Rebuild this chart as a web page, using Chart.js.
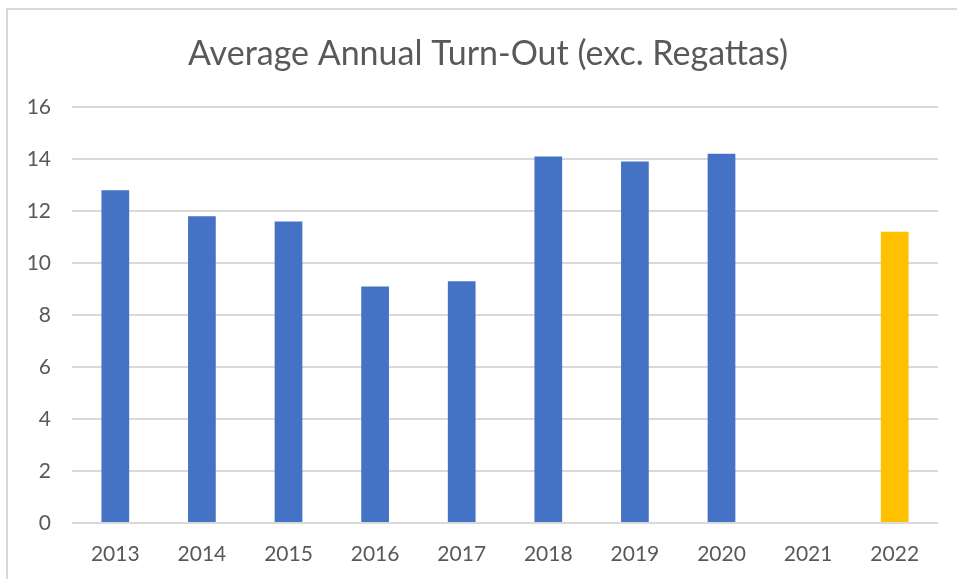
<!DOCTYPE html>
<html>
<head>
<meta charset="utf-8">
<script src="https://cdn.jsdelivr.net/npm/chart.js@4"></script>
<style>
  body { margin: 0; background: #fff; }
  #wrap { position: relative; width: 957px; height: 579px; overflow: hidden; }
  #frame { position: absolute; left: 6px; top: 8px; width: 980px; height: 600px; border: 2px solid #d9d9d9; box-sizing: border-box; }
  canvas { position: absolute; left: 0; top: 0; }
</style>
</head>
<body>
<div id="wrap">
  <div id="frame"></div>
  <canvas id="turnoutChart" width="957" height="579"></canvas>
</div>
<script>
const years = ["2013", "2014", "2015", "2016", "2017", "2018", "2019", "2020", "2021", "2022"];
const turnout = [12.8, 11.8, 11.6, 9.1, 9.3, 14.1, 13.9, 14.2, null, 11.2];
const barColours = ["#4472c4", "#4472c4", "#4472c4", "#4472c4", "#4472c4",
                    "#4472c4", "#4472c4", "#4472c4", "#4472c4", "#ffc000"];
const yTicks = [0, 2, 4, 6, 8, 10, 12, 14, 16];
const chartTitle = "Average Annual Turn-Out (exc. Regattas)";

const textGrey = "#595959";
const fontName = "Lato";

// title drawn by hand so it can sit centred over the frame rather than the canvas
const titlePlugin = {
    id: "frameTitle",
    afterDraw(chart) {
        const c = chart.ctx;
        c.save();
        c.fillStyle = textGrey;
        c.font = "34px " + fontName;
        c.textAlign = "center";
        c.textBaseline = "middle";
        c.fillText(chartTitle, 488, 54);
        c.restore();
    }
};

const ctx = document.getElementById("turnoutChart");

new Chart(ctx, {
    type: "bar",
    data: {
        labels: years,
        datasets: [{
            label: "Average turn-out",
            data: turnout,
            backgroundColor: barColours,
            barPercentage: 1,
            categoryPercentage: 0.32
        }]
    },
    options: {
        responsive: false,
        animation: false,
        layout: { padding: { left: 0, right: 19, top: 107, bottom: 0 } },
        plugins: {
            legend: { display: false },
            tooltip: { enabled: false },
            title: { display: false }
        },
        scales: {
            x: {
                grid: { display: false, drawTicks: false },
                border: { display: false },
                ticks: {
                    color: textGrey,
                    font: { family: fontName, size: 21 },
                    padding: 19
                },
                afterFit(scale) { scale.height = 56; }
            },
            y: {
                min: 0,
                max: 16,
                afterBuildTicks(scale) { scale.ticks = yTicks.map(v => ({ value: v })); },
                grid: { color: "#d9d9d9", lineWidth: 2, drawTicks: false },
                border: { display: false },
                ticks: {
                    color: textGrey,
                    font: { family: fontName, size: 21 },
                    padding: 21
                },
                afterFit(scale) { scale.width = 72; }
            }
        }
    },
    plugins: [titlePlugin]
});
</script>
</body>
</html>
